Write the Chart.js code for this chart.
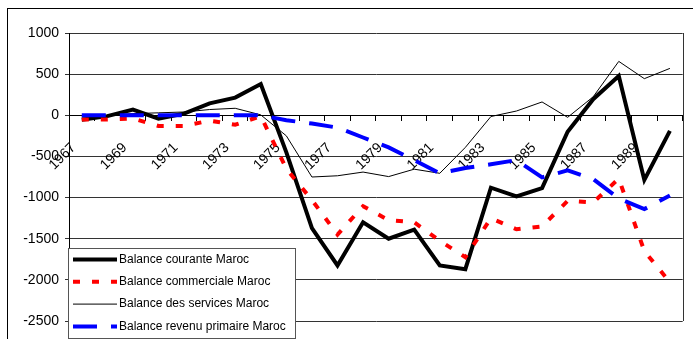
<!DOCTYPE html>
<html>
<head>
<meta charset="utf-8">
<script src="https://cdn.jsdelivr.net/npm/chart.js@4.4.1/dist/chart.umd.min.js"></script>
<style>
  html, body { margin: 0; padding: 0; background: #fff; }
  canvas { display: block; }
</style>
</head>
<body>
<canvas id="c" width="693" height="339"></canvas>
<script>
// Years on the category axis
const years = [1967, 1968, 1969, 1970, 1971, 1972, 1973, 1974, 1975, 1976, 1977, 1978,
               1979, 1980, 1981, 1982, 1983, 1984, 1985, 1986, 1987, 1988, 1989, 1990];

// Balances (millions)
const courante = [-55, -10, 70, -40, 20, 145, 215, 380, -450, -1370, -1825, -1300,
                  -1500, -1390, -1825, -1870, -880, -985, -886, -200, 195, 477, -785, -190];
const commerciale = [-50, -50, -40, -130, -130, -65, -115, -10, -650, -1030, -1450, -1105,
                     -1275, -1300, -1525, -1725, -1250, -1385, -1350, -1040, -1060, -770, -1650, -2030];
const services = [-20, 0, 20, 30, 40, 70, 85, 5, -250, -750, -735, -690,
                  -745, -655, -705, -390, -15, 52, 162, -25, 225, 655, 445, 570];
const revenu = [0, 0, 0, 0, 0, 0, 0, 0, -60, -100, -150, -270,
                -390, -545, -705, -640, -595, -545, -755, -670, -775, -1010, -1140, -975];

// Value-axis ticks
const yTicks = [1000, 500, 0, -500, -1000, -1500, -2000, -2500];

const seriesLabels = ['Balance courante Maroc', 'Balance commerciale Maroc',
                      'Balance des services Maroc', 'Balance revenu primaire Maroc'];

const FONT = '"Liberation Sans", Arial, sans-serif';

// White page with the outer frame
const frame = {
  id: 'frame',
  beforeDraw(chart) {
    const ctx = chart.ctx;
    ctx.save();
    ctx.fillStyle = '#fff';
    ctx.fillRect(0, 0, chart.width, chart.height);
    ctx.strokeStyle = '#000';
    ctx.lineWidth = 1;
    ctx.strokeRect(7.5, 8.5, 800, 500);
    ctx.restore();
  },
  afterDatasetsDraw(chart) {
    const a = chart.chartArea;
    const ctx = chart.ctx;
    ctx.save();
    ctx.strokeStyle = '#333';
    ctx.lineWidth = 1;
    ctx.beginPath();
    ctx.moveTo(Math.round(a.right) + 0.5, a.top);
    ctx.lineTo(Math.round(a.right) + 0.5, a.bottom);
    ctx.stroke();
    ctx.restore();
  }
};

// Boxed legend sitting over the lower-left of the plot
const boxLegend = {
  id: 'boxLegend',
  afterDraw(chart) {
    const ctx = chart.ctx;
    const x = 68.5, y = 248.5, w = 227, h = 90;
    ctx.save();
    ctx.fillStyle = '#fff';
    ctx.fillRect(x, y, w, h);
    ctx.strokeStyle = '#555';
    ctx.lineWidth = 1;
    ctx.strokeRect(x, y, w, h);
    chart.data.datasets.forEach((ds, i) => {
      const cy = 259.5 + i * 22.3;
      ctx.beginPath();
      ctx.setLineDash(ds.borderDash || []);
      ctx.lineDashOffset = 0;
      ctx.strokeStyle = ds.borderColor;
      ctx.lineWidth = ds.borderWidth;
      ctx.moveTo(73, cy);
      ctx.lineTo(117, cy);
      ctx.stroke();
      ctx.setLineDash([]);
      ctx.fillStyle = '#000';
      ctx.font = '12px ' + FONT;
      ctx.textBaseline = 'middle';
      ctx.textAlign = 'left';
      ctx.fillText(ds.label, 119, cy);
    });
    ctx.restore();
  }
};

new Chart(document.getElementById('c'), {
  type: 'line',
  data: {
    labels: years,
    datasets: [
      { label: seriesLabels[0], data: courante, borderColor: '#000', borderWidth: 4, order: 4 },
      { label: seriesLabels[1], data: commerciale, borderColor: '#ff0000', borderWidth: 4,
        borderDash: [7, 12], order: 3 },
      { label: seriesLabels[2], data: services, borderColor: '#000', borderWidth: 1, order: 2 },
      { label: seriesLabels[3], data: revenu, borderColor: '#0000ff', borderWidth: 4,
        borderDash: [24, 14], order: 1 }
    ]
  },
  options: {
    responsive: false,
    animation: false,
    devicePixelRatio: 1,
    layout: { padding: { left: 0, top: 33, right: 10, bottom: 18 } },
    elements: {
      point: { radius: 0, hoverRadius: 0 },
      line: { tension: 0, fill: false, borderCapStyle: 'butt', borderJoinStyle: 'miter' }
    },
    plugins: {
      legend: { display: false },
      tooltip: { enabled: false }
    },
    scales: {
      x: {
        type: 'category',
        position: { y: 0 },
        offset: true,
        grid: { drawOnChartArea: false, drawTicks: true, tickLength: 5, offset: true, color: '#000' },
        border: { display: true, color: '#000', width: 1 },
        ticks: {
          autoSkip: false,
          maxRotation: 45,
          minRotation: 45,
          padding: 11,
          color: '#000',
          font: { family: FONT, size: 14 },
          // every other year, with trailing room so the slanted text ends short of its tick
          callback: function (v, i) { return i % 2 === 0 ? String(years[i]) + '   ' : ''; }
        }
      },
      y: {
        min: yTicks[yTicks.length - 1],
        max: yTicks[0],
        afterFit: (s) => { s.width = 69; },
        afterBuildTicks: (s) => { s.ticks = yTicks.map(v => ({ value: v })); },
        grid: { color: '#333', lineWidth: 1, tickLength: 4, drawTicks: true },
        border: { display: true, color: '#000', width: 1 },
        ticks: {
          padding: 6,
          color: '#000',
          font: { family: FONT, size: 14 },
          callback: (v) => String(v)
        }
      }
    }
  },
  plugins: [frame, boxLegend]
});
</script>
</body>
</html>
